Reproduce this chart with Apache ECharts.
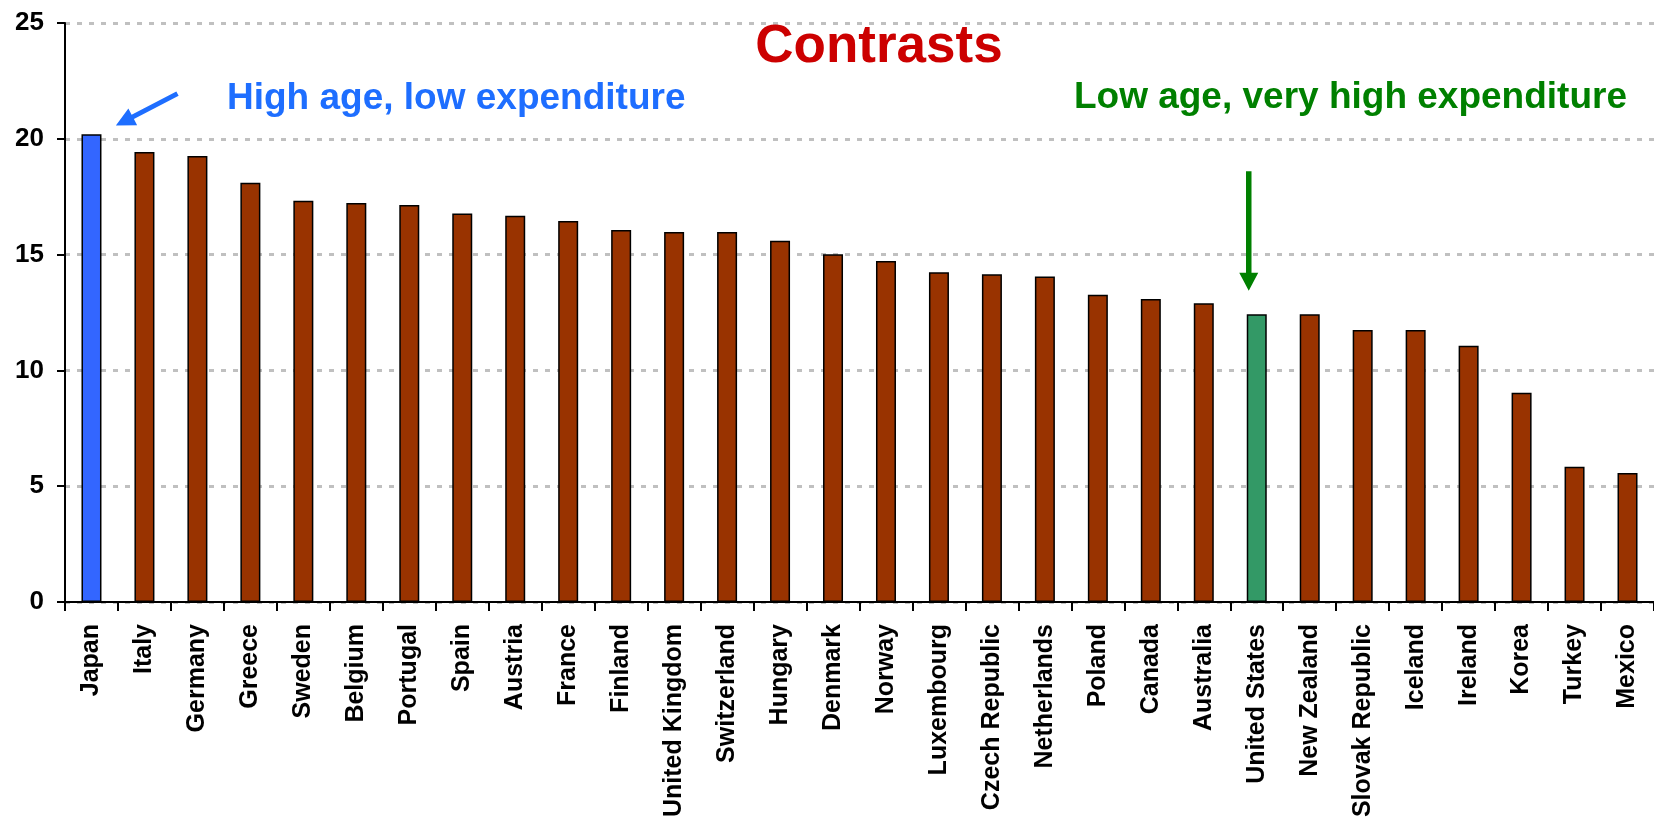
<!DOCTYPE html>
<html>
<head>
<meta charset="utf-8">
<script src="https://cdn.jsdelivr.net/npm/echarts@6/dist/echarts.min.js"></script>
<style>
  html, body { margin: 0; padding: 0; background: #ffffff; }
  #chart { width: 1654px; height: 827px; }
</style>
</head>
<body>
<div id="chart"></div>
<script>
// Countries, ordered by value
const countries = ['Japan', 'Italy', 'Germany', 'Greece', 'Sweden', 'Belgium', 'Portugal', 'Spain',
  'Austria', 'France', 'Finland', 'United Kingdom', 'Switzerland', 'Hungary', 'Denmark', 'Norway',
  'Luxembourg', 'Czech Republic', 'Netherlands', 'Poland', 'Canada', 'Australia', 'United States',
  'New Zealand', 'Slovak Republic', 'Iceland', 'Ireland', 'Korea', 'Turkey', 'Mexico'];

const values = [20.2, 19.43, 19.26, 18.1, 17.32, 17.23, 17.14, 16.77,
  16.68, 16.45, 16.06, 15.98, 15.98, 15.6, 15.01, 14.72,
  14.24, 14.15, 14.05, 13.27, 13.08, 12.9, 12.42,
  12.42, 11.74, 11.74, 11.06, 9.04, 5.84, 5.57];

const yTicks = [0, 5, 10, 15, 20, 25];

const titleText = 'Contrasts';
const noteHigh = 'High age, low expenditure';
const noteLow = 'Low age, very high expenditure';
const highCountry = 'Japan';
const lowCountry = 'United States';

const FONT = '"Liberation Sans", Arial, Helvetica, sans-serif';
const BAR_BROWN = '#993300';
const BAR_BLUE = '#3366FF';
const BAR_GREEN = '#339966';
const NOTE_BLUE = '#1E6EFF';
const NOTE_GREEN = '#008000';

const chart = echarts.init(document.getElementById('chart'), null, { renderer: 'canvas' });

const barData = countries.map((c, i) => {
  let color = BAR_BROWN;
  if (c === highCountry) color = BAR_BLUE;
  if (c === lowCountry) color = BAR_GREEN;
  return { value: values[i], itemStyle: { color: color } };
});

chart.setOption({
  animation: false,
  backgroundColor: '#ffffff',
  grid: { left: 65, top: 23, width: 1597, height: 579, containLabel: false },
  xAxis: {
    type: 'category',
    data: countries,
    boundaryGap: true,
    axisLine: { lineStyle: { color: '#000000', width: 2 } },
    axisTick: { show: true, length: 9, lineStyle: { color: '#000000', width: 2 } },
    axisLabel: {
      rotate: 90,
      interval: 0,
      margin: 22,
      color: '#000000',
      fontFamily: FONT,
      fontWeight: 'bold',
      fontSize: 25
    },
    splitLine: { show: false }
  },
  yAxis: {
    type: 'value',
    min: yTicks[0],
    max: yTicks[yTicks.length - 1],
    interval: yTicks[1] - yTicks[0],
    axisLine: { show: true, lineStyle: { color: '#000000', width: 2 } },
    axisTick: { show: true, length: 8, lineStyle: { color: '#000000', width: 2 } },
    axisLabel: {
      margin: 21,
      color: '#000000',
      fontFamily: FONT,
      fontWeight: 'bold',
      fontSize: 26
    },
    splitLine: { show: true, lineStyle: { color: '#c0c0c0', width: 3, type: [5, 7] } }
  },
  series: [{
    type: 'bar',
    data: barData,
    barWidth: 20,
    itemStyle: { borderColor: '#000000', borderWidth: 1.5 }
  }]
});

// Build an arrow outline (shaft + head) from tail to tip
function arrowPoints(x1, y1, x2, y2, shaftW, headW, headL) {
  const dx = x2 - x1, dy = y2 - y1;
  const len = Math.sqrt(dx * dx + dy * dy);
  const ux = dx / len, uy = dy / len;
  const nx = -uy, ny = ux;
  const bx = x2 - ux * headL, by = y2 - uy * headL;
  return [
    [x1 + nx * shaftW / 2, y1 + ny * shaftW / 2],
    [bx + nx * shaftW / 2, by + ny * shaftW / 2],
    [bx + nx * headW / 2, by + ny * headW / 2],
    [x2, y2],
    [bx - nx * headW / 2, by - ny * headW / 2],
    [bx - nx * shaftW / 2, by - ny * shaftW / 2],
    [x1 - nx * shaftW / 2, y1 - ny * shaftW / 2]
  ];
}

// Anchor the arrows on their bars
const hiTip = chart.convertToPixel({ gridIndex: 0 }, [highCountry, 20.57]);
const hiTail = chart.convertToPixel({ gridIndex: 0 }, [highCountry, 21.95]);
const loTip = chart.convertToPixel({ gridIndex: 0 }, [lowCountry, 13.44]);
const loTail = chart.convertToPixel({ gridIndex: 0 }, [lowCountry, 18.6]);

chart.setOption({
  graphic: [
    {
      type: 'text',
      x: 879, y: 47,
      style: {
        text: titleText,
        fill: '#CC0000',
        font: 'bold 53px ' + FONT,
        align: 'center',
        verticalAlign: 'middle'
      }
    },
    {
      type: 'text',
      x: 227, y: 98.5,
      style: {
        text: noteHigh,
        fill: NOTE_BLUE,
        font: 'bold 37px ' + FONT,
        align: 'left',
        verticalAlign: 'middle'
      }
    },
    {
      type: 'text',
      x: 1627, y: 98,
      style: {
        text: noteLow,
        fill: NOTE_GREEN,
        font: 'bold 37px ' + FONT,
        align: 'right',
        verticalAlign: 'middle'
      }
    },
    {
      type: 'polygon',
      shape: { points: arrowPoints(hiTail[0] + 86, hiTail[1], hiTip[0] + 24.4, hiTip[1], 5, 19, 19) },
      style: { fill: NOTE_BLUE }
    },
    {
      type: 'polygon',
      shape: { points: arrowPoints(loTail[0] - 8, loTail[1], loTip[0] - 8, loTip[1], 5.5, 19, 18) },
      style: { fill: NOTE_GREEN }
    }
  ]
});
</script>
</body>
</html>
